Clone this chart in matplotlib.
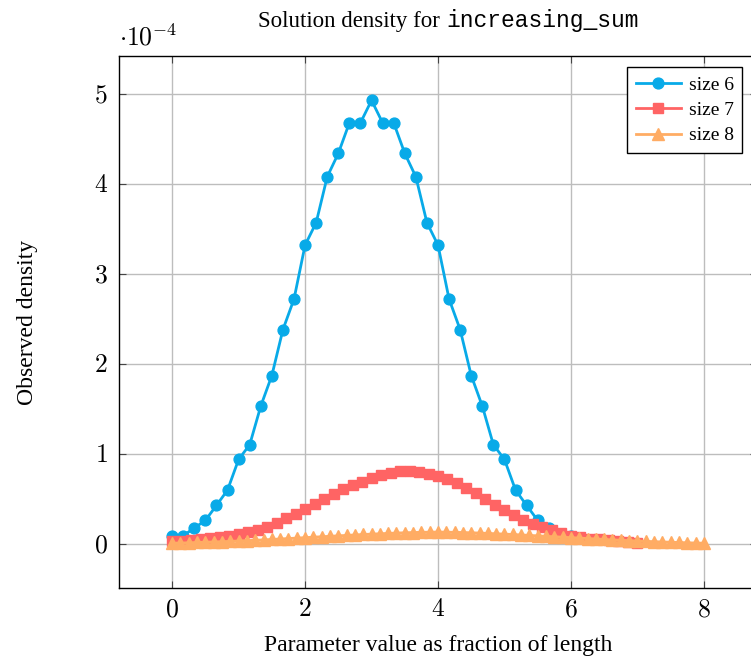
import matplotlib
matplotlib.use("Agg")
import matplotlib.pyplot as plt

plt.rcParams['font.family'] = ['Liberation Serif', 'DejaVu Serif']
plt.rcParams['mathtext.fontset'] = 'cm'

# observed density (units of 1e-4), one series per size
size6_x = [k / 6 for k in range(37)]
size6_y = [0.09, 0.09, 0.174, 0.259, 0.426, 0.596, 0.937, 1.10, 1.53, 1.87,
           2.38, 2.72, 3.32, 3.57, 4.08, 4.34, 4.68, 4.68, 4.93, 4.68,
           4.68, 4.34, 4.08, 3.57, 3.32, 2.72, 2.38, 1.87, 1.53, 1.10,
           0.937, 0.596, 0.426, 0.259, 0.174, 0.09, 0.09]

size7_x = [k / 7 for k in range(50)]
size7_y = [0.03, 0.035, 0.042, 0.05, 0.06, 0.072, 0.087, 0.105, 0.127, 0.152,
           0.19, 0.235, 0.28, 0.335, 0.39, 0.445, 0.50, 0.555, 0.605, 0.65,
           0.69, 0.725, 0.76, 0.785, 0.805, 0.805, 0.795, 0.775, 0.75, 0.715,
           0.67, 0.62, 0.56, 0.495, 0.43, 0.37, 0.315, 0.26, 0.22, 0.185,
           0.15, 0.115, 0.09, 0.07, 0.057, 0.048, 0.04, 0.03, 0.02, 0.012]

size8_x = [k / 8 for k in range(65)]
size8_y = [0.005, 0.007, 0.01, 0.013, 0.016, 0.019, 0.022, 0.026, 0.03, 0.034,
           0.038, 0.042, 0.047, 0.052, 0.057, 0.062, 0.067, 0.072, 0.077, 0.082,
           0.087, 0.092, 0.097, 0.102, 0.106, 0.11, 0.114, 0.118, 0.121, 0.124,
           0.126, 0.128, 0.129, 0.128, 0.126, 0.124, 0.121, 0.118, 0.114, 0.11,
           0.106, 0.102, 0.097, 0.092, 0.087, 0.082, 0.077, 0.072, 0.067, 0.062,
           0.057, 0.052, 0.047, 0.042, 0.038, 0.034, 0.03, 0.026, 0.022, 0.019,
           0.016, 0.013, 0.01, 0.007, 0.005]

xticks = [0, 2, 4, 6, 8]
yticks = [0, 1, 2, 3, 4, 5]

fig = plt.figure(figsize=(7.51, 6.6), dpi=100)
ax = fig.add_axes([119 / 751, 1 - 588 / 660, 638 / 751, 532 / 660])

ax.plot(size6_x, size6_y, color='#08aae8', lw=2, marker='o', ms=7.8,
        label='size 6', zorder=3)
ax.plot(size7_x, size7_y, color='#ff6464', lw=2, marker='s', ms=7.8,
        label='size 7', zorder=4)
ax.plot(size8_x, size8_y, color='#ffac64', lw=2, marker='^', ms=8.5,
        label='size 8', zorder=5)

ax.set_xlim(-0.8, 8.8)
ax.set_ylim(-0.493, 5.423)
ax.set_xticks(xticks)
ax.set_yticks(yticks)
ax.set_xticklabels(['$%d$' % t for t in xticks], fontsize=18.5)
ax.set_yticklabels(['$%d$' % t for t in yticks], fontsize=18.5)
ax.tick_params(direction='in', top=True, right=True, length=5, width=0.8,
               color='#444444', pad=8)
ax.grid(True, color='#bdbdbd', lw=1)
ax.set_axisbelow(True)
for s in ax.spines.values():
    s.set_linewidth(1.0)

ax.text(0.0, 1.01, r'$\cdot 10^{-4}$', transform=ax.transAxes,
        fontsize=18.5, ha='left', va='bottom')

fig.text(446 / 751, 1 - 21 / 660, 'Solution density for ', fontsize=16.5,
         ha='right', va='center')
fig.text(446 / 751, 1 - 21 / 660, 'increasing_sum', fontsize=16.5,
         family='Liberation Mono', ha='left', va='center')

ax.set_xlabel('Parameter value as fraction of length', fontsize=17, va='center')
ax.set_ylabel('Observed density', fontsize=17, va='center')
ax.xaxis.set_label_coords(0.5, (588 - 645) / 532)
ax.yaxis.set_label_coords((28 - 119) / 638, 0.5)

leg = ax.legend(loc='upper right', bbox_to_anchor=(0.977, 0.979), fontsize=14,
                fancybox=False, edgecolor='black', framealpha=1,
                handlelength=2.3, handletextpad=0.4, borderpad=0.45,
                labelspacing=0.4, borderaxespad=0)
leg.get_frame().set_linewidth(1.0)

fig.savefig('out.png', dpi=100)
